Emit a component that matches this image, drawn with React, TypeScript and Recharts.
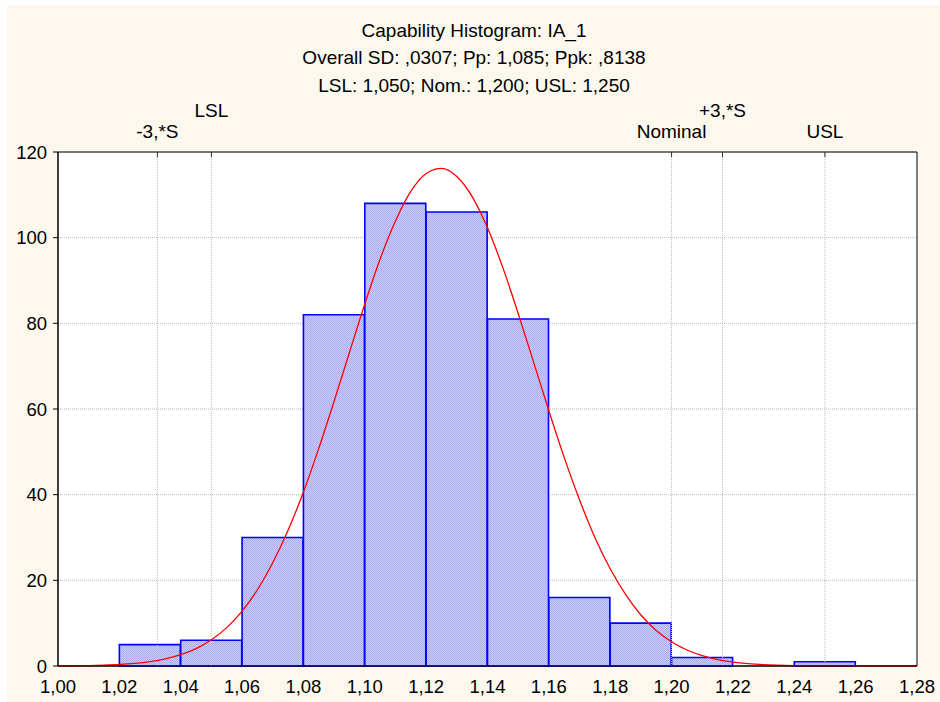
import React from 'react';
import {
  ComposedChart, Bar, Line, XAxis, YAxis, CartesianGrid, ReferenceLine, ReferenceArea,
} from 'recharts';

// Histogram bins (start of each 0,02-wide bin) and counts
const binStarts = [1.00, 1.02, 1.04, 1.06, 1.08, 1.10, 1.12, 1.14, 1.16, 1.18, 1.20, 1.22, 1.24, 1.26];
const binCounts = [0, 5, 6, 30, 82, 108, 106, 81, 16, 10, 2, 0, 1, 0];
const binWidth = 0.02;

// Fitted normal curve
const curveX = [1.000, 1.005, 1.010, 1.015, 1.020, 1.025, 1.030, 1.035, 1.040, 1.045, 1.050, 1.055, 1.060, 1.065, 1.070, 1.075, 1.080, 1.085, 1.090, 1.095, 1.100, 1.105, 1.110, 1.115, 1.120, 1.125, 1.130, 1.135, 1.140, 1.145, 1.150, 1.155, 1.160, 1.165, 1.170, 1.175, 1.180, 1.185, 1.190, 1.195, 1.200, 1.205, 1.210, 1.215, 1.220, 1.225, 1.230, 1.240, 1.250, 1.260, 1.270, 1.280];
const curveY = [0.03, 0.06, 0.11, 0.20, 0.35, 0.61, 1.02, 1.66, 2.64, 4.07, 6.11, 8.96, 12.8, 17.8, 24.1, 31.7, 40.6, 50.8, 61.8, 73.2, 84.5, 95.0, 103.9, 110.8, 115.0, 116.2, 114.3, 109.6, 102.3, 93.0, 82.3, 71.0, 59.6, 48.7, 38.8, 30.0, 22.7, 16.7, 11.9, 8.3, 5.65, 3.73, 2.40, 1.51, 0.92, 0.55, 0.32, 0.10, 0.03, 0.01, 0.0, 0.0];

// Specification markers
const specValues = [1.0324, 1.05, 1.20, 1.2166, 1.25];
const specLabels = ['-3,*S', 'LSL', 'Nominal', '+3,*S', 'USL'];
const specRow = [1, 0, 1, 0, 1]; // 0 = upper row, 1 = lower row

const xTicks = [1.00, 1.02, 1.04, 1.06, 1.08, 1.10, 1.12, 1.14, 1.16, 1.18, 1.20, 1.22, 1.24, 1.26, 1.28];
const yTicks = [0, 20, 40, 60, 80, 100, 120];

const titleLines = [
  'Capability Histogram: IA_1',
  'Overall SD: ,0307; Pp: 1,085; Ppk: ,8138',
  'LSL: 1,050; Nom.: 1,200; USL: 1,250',
];

const histData = binStarts.map((s, i) => ({ x: s + binWidth / 2, count: binCounts[i] }));
const curveData = curveX.map((x, i) => ({ x, y: curveY[i] }));

const FONT = '"Liberation Sans", Arial, sans-serif';
const fmtX = (v: number) => v.toFixed(2).replace('.', ',');

export default function App() {
  return (
    <div style={{ position: 'absolute', left: 0, top: 0, width: 940, height: 702, background: '#fff', overflow: 'hidden', fontFamily: FONT }}>
      <div style={{ position: 'absolute', left: 7, top: 5, width: 933, height: 697, background: '#FCF8EE' }} />
      <svg width={0} height={0} style={{ position: 'absolute' }}>
        <defs>
          <pattern id="binFill" width={2} height={2} patternUnits="userSpaceOnUse">
            <rect x={0} y={0} width={2} height={2} fill="#C9C9FA" />
            <rect x={0} y={0} width={1} height={1} fill="#ADADF2" />
            <rect x={1} y={1} width={1} height={1} fill="#ADADF2" />
          </pattern>
        </defs>
      </svg>
      {titleLines.map((t, i) => (
        <div key={i} style={{ position: 'absolute', left: 0, width: 948, top: 20.5 + i * 27.5, textAlign: 'center', fontSize: 19, lineHeight: '19px', color: '#000', whiteSpace: 'nowrap' }}>{t}</div>
      ))}
      <div style={{ position: 'absolute', left: 0, top: 0 }}>
        <ComposedChart
          width={940}
          height={702}
          data={histData}
          margin={{ top: 152, right: 23, bottom: 0, left: 0 }}
          barCategoryGap={0}
          barGap={0}
        >
          <CartesianGrid
            fill="#fff"
            fillOpacity={1}
            stroke="#BDBDBD"
            strokeDasharray="1 1"
            vertical={false}
          />
          <XAxis
            dataKey="x"
            type="number"
            domain={[1.0, 1.28]}
            ticks={xTicks}
            tickFormatter={fmtX}
            height={36}
            tickLine={false}
            tickSize={0}
            tickMargin={14}
            axisLine={{ stroke: '#000' }}
            tick={{ fill: '#000', fontSize: 18.5, fontFamily: FONT }}
            interval={0}
          />
          <XAxis xAxisId="curve" dataKey="x" type="number" domain={[1.0, 1.28]} hide />
          <YAxis
            domain={[0, 120]}
            ticks={yTicks}
            width={58}
            tickSize={5}
            tickMargin={6}
            axisLine={{ stroke: '#000' }}
            tickLine={{ stroke: '#000' }}
            tick={{ fill: '#000', fontSize: 18.5, fontFamily: FONT }}
            interval={0}
          />
          {specValues.map((v, i) => (
            <ReferenceLine
              key={'g' + i}
              x={v}
              stroke="#BDBDBD"
              strokeDasharray="1 1"
            />
          ))}
          <Bar dataKey="count" fill="url(#binFill)" stroke="#0000FF" strokeWidth={1.6} isAnimationActive={false} />
          <Line
            xAxisId="curve"
            data={curveData}
            dataKey="y"
            type="monotone"
            stroke="#FF0000"
            strokeWidth={1.3}
            dot={false}
            activeDot={false}
            isAnimationActive={false}
          />
          <ReferenceArea x1={1.0} x2={1.28} y1={0} y2={120} fill="none" stroke="#000" strokeWidth={1} ifOverflow="visible" />
          {specValues.map((v, i) => (
            <ReferenceLine
              key={i}
              segment={[{ x: v, y: 120 }, { x: v, y: 118.8 }]}
              stroke="#333"
              strokeWidth={1}
              ifOverflow="visible"
              label={{ value: specLabels[i], position: 'top', offset: specRow[i] === 0 ? 35 : 14, fill: '#000', fontSize: 19, fontFamily: FONT }}
            />
          ))}
        </ComposedChart>
      </div>
    </div>
  );
}
